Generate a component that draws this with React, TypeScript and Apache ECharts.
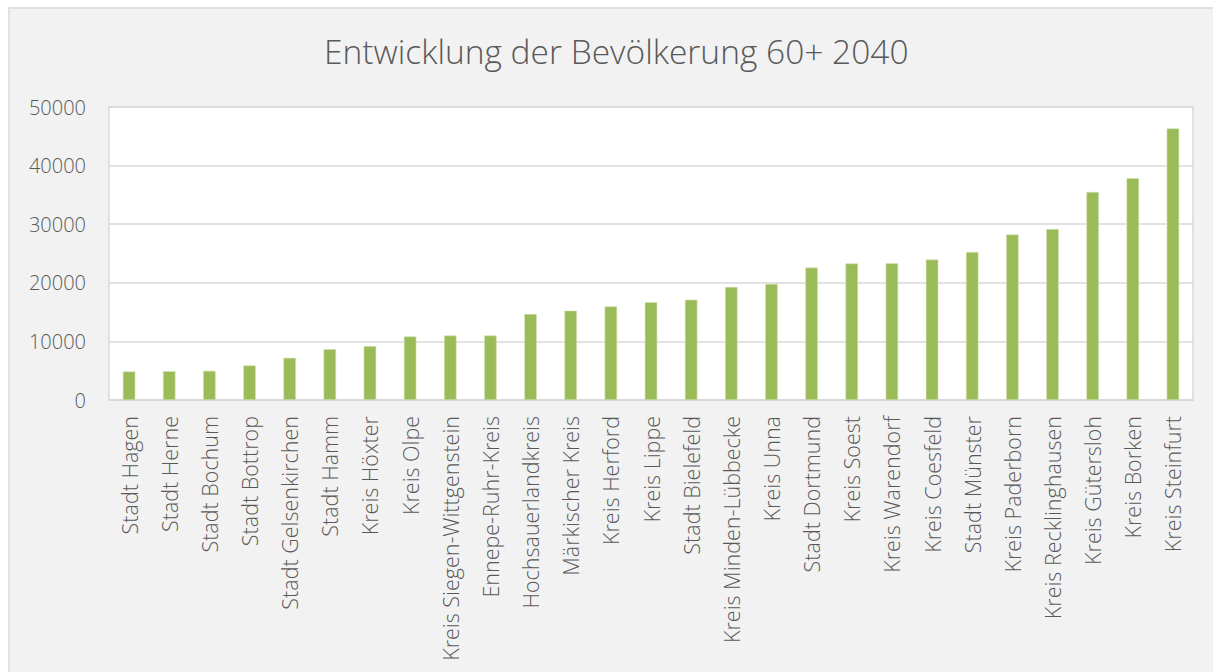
import React, { useEffect, useRef } from "react";
import * as echarts from "echarts";

const TITLE = "Entwicklung der Bevölkerung 60+ 2040";

const categories: string[] = [
  "Stadt Hagen",
  "Stadt Herne",
  "Stadt Bochum",
  "Stadt Bottrop",
  "Stadt Gelsenkirchen",
  "Stadt Hamm",
  "Kreis Höxter",
  "Kreis Olpe",
  "Kreis Siegen-Wittgenstein",
  "Ennepe-Ruhr-Kreis",
  "Hochsauerlandkreis",
  "Märkischer Kreis",
  "Kreis Herford",
  "Kreis Lippe",
  "Stadt Bielefeld",
  "Kreis Minden-Lübbecke",
  "Kreis Unna",
  "Stadt Dortmund",
  "Kreis Soest",
  "Kreis Warendorf",
  "Kreis Coesfeld",
  "Stadt Münster",
  "Kreis Paderborn",
  "Kreis Recklinghausen",
  "Kreis Gütersloh",
  "Kreis Borken",
  "Kreis Steinfurt",
];

const values: number[] = [
  4880, 4920, 4980, 5900, 7200, 8680, 9200, 10850, 11000, 11020,
  14680, 15250, 15980, 16680, 17120, 19300, 19820, 22600, 23300,
  23350, 23980, 25250, 28250, 29180, 35500, 37850, 46350,
];

const yTicks = { min: 0, max: 50000, interval: 10000 };

const FONT = "'Open Sans', 'Noto Sans', sans-serif";
const TEXT_COLOR = "#595959";
const LINE_COLOR = "#d9d9d9";
const BAR_COLOR = "#9bbb59";

export default function App() {
  const ref = useRef<HTMLDivElement>(null);

  useEffect(() => {
    if (!ref.current) return;
    const chart = echarts.init(ref.current, undefined, { renderer: "svg" });
    chart.setOption({
      animation: false,
      backgroundColor: "#ffffff",
      graphic: [
        {
          type: "rect",
          z: -10,
          silent: true,
          shape: { x: 9, y: 8, width: 1220, height: 680 },
          style: { fill: "#f2f2f2", stroke: LINE_COLOR, lineWidth: 1.5 },
        },
      ],
      title: {
        text: TITLE,
        left: 319,
        top: 29,
        textStyle: {
          fontFamily: FONT,
          fontSize: 33.5,
          fontWeight: 300,
          color: TEXT_COLOR,
        },
      },
      grid: {
        left: 109,
        right: 20,
        top: 107,
        bottom: 272,
        show: true,
        backgroundColor: "#ffffff",
        borderColor: LINE_COLOR,
        borderWidth: 1.5,
      },
      xAxis: {
        type: "category",
        data: categories,
        axisLine: { show: true, lineStyle: { color: LINE_COLOR, width: 1.5 } },
        axisTick: { show: false },
        axisLabel: {
          rotate: 90,
          interval: 0,
          margin: 16,
          fontFamily: FONT,
          fontSize: 21.5,
          fontWeight: 300,
          color: TEXT_COLOR,
        },
      },
      yAxis: {
        type: "value",
        min: yTicks.min,
        max: yTicks.max,
        interval: yTicks.interval,
        axisLine: { show: false },
        axisTick: { show: false },
        splitLine: { lineStyle: { color: LINE_COLOR, width: 1.5 } },
        axisLabel: {
          margin: 23,
          formatter: (v: number) => String(v),
          fontFamily: FONT,
          fontSize: 20,
          fontWeight: 300,
          color: TEXT_COLOR,
        },
      },
      series: [
        {
          type: "bar",
          data: values,
          barWidth: 12.5,
          itemStyle: { color: BAR_COLOR, borderColor: "#d3e2b4", borderWidth: 0.6 },
        },
      ],
    });
    return () => chart.dispose();
  }, []);

  return (
    <div
      ref={ref}
      style={{ position: "absolute", left: 0, top: 0, width: 1213, height: 672 }}
    />
  );
}
